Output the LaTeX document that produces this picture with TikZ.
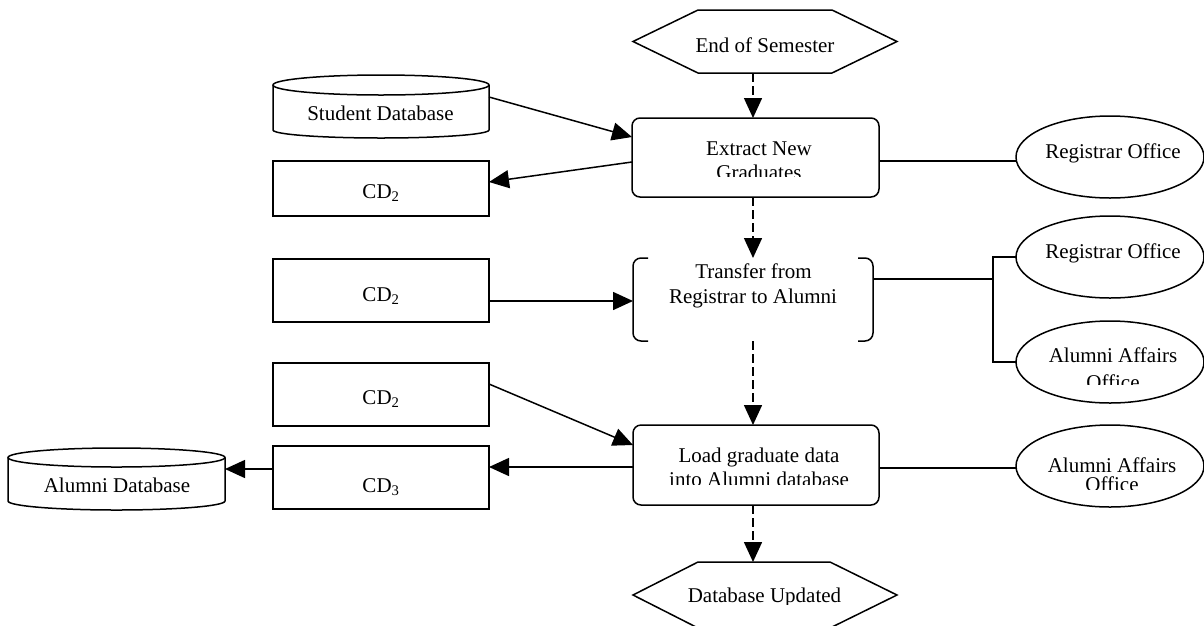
\documentclass[tikz,border=0pt]{standalone}
\usepackage{fontspec}
\setmainfont{Liberation Serif}
\usetikzlibrary{arrows.meta,calc,shapes.geometric}
\begin{document}
\begin{tikzpicture}[x=1pt,y=-1pt,
  line width=1.5pt,
  every node/.style={inner sep=0pt, outer sep=0pt},
  txt/.style={anchor=base, font=\fontsize{21}{24}\selectfont},
  frame/.style={rectangle, draw=none},
  databox/.style={rectangle, draw, minimum width=216pt},
  procbox/.style={rectangle, draw, rounded corners=8pt},
  actor/.style={ellipse, draw, minimum width=188pt, minimum height=82pt},
  arr/.style={-{Triangle[length=20pt,width=18pt]}},
  darr/.style={arr, dash pattern=on 9pt off 4pt},
  link/.style={line cap=butt}]

\clip (0,0) rectangle (1204,625);

% ---------- shapes ----------
% events (hexagons)
\node[frame, minimum width=264pt, minimum height=63pt] (start) at (765,41.5) {};
\draw ($(start.west)$) -- ($(start.north west)+(65,0)$) -- ($(start.north east)+(-65,0)$)
  -- (start.east) -- ($(start.south east)+(-65,0)$) -- ($(start.south west)+(65,0)$) -- cycle;
\node[frame, minimum width=264pt, minimum height=66pt] (finish) at (765,595) {};
\draw ($(finish.west)$) -- ($(finish.north west)+(65,0)$) -- ($(finish.north east)+(-67,0)$)
  -- (finish.east) -- ($(finish.south east)+(-67,0)$) -- ($(finish.south west)+(65,0)$) -- cycle;

% processes
\node[procbox, minimum width=247pt, minimum height=79pt] (extract) at (755.5,157.5) {};
\node[frame, minimum width=240pt, minimum height=83pt] (transfer) at (753,299.5) {};
\draw[rounded corners=8pt] ($(transfer.north west)+(15,0)$) -- (transfer.north west)
  -- (transfer.south west) -- ($(transfer.south west)+(15,0)$);
\draw[rounded corners=8pt] ($(transfer.north east)+(-15,0)$) -- (transfer.north east)
  -- (transfer.south east) -- ($(transfer.south east)+(-15,0)$);
\node[procbox, minimum width=246pt, minimum height=80pt] (load) at (756,465) {};

% data stores
\node[frame, minimum width=216pt, minimum height=63pt] (sdb) at (381,106.5) {};
\draw (381,85) ellipse [x radius=108pt, y radius=10pt];
\draw (273,85) -- (273,130) arc[start angle=180, end angle=360, x radius=108pt, y radius=8pt] -- (489,85);
\node[frame, minimum width=217pt, minimum height=62pt] (adb) at (116.5,479) {};
\draw (116.5,457.5) ellipse [x radius=108.5pt, y radius=9.5pt];
\draw (8,457.5) -- (8,501) arc[start angle=180, end angle=360, x radius=108.5pt, y radius=9pt] -- (225,457.5);

\node[databox, minimum height=55pt] (cd2a) at (381,188.5) {};
\node[databox, minimum height=63pt] (cd2b) at (381,290.5) {};
\node[databox, minimum height=63pt] (cd2c) at (381,394.5) {};
\node[databox, minimum height=63pt] (cd3)  at (381,477.5) {};

% actors
\node[actor] (reg1) at (1110,157) {};
\node[actor] (reg2) at (1110,257) {};
\node[actor] (alum1) at (1110,362) {};
\node[actor] (alum2) at (1110,466) {};

% ---------- labels ----------
\node[txt] (lstart) at (765,52) {End of Semester};
\node[txt] (lsdb) at (380.5,120) {Student Database};
\node[txt] (lcd2a) at (381,198) {CD\textsubscript{2}};
\node[txt] (lext1) at (759,155) {Extract New};
\begin{scope}
  \clip (633,119) rectangle (878,176);
  \node[txt] (lext2) at (759,179) {Graduates};
\end{scope}
\node[txt] (lreg1) at (1113,158) {Registrar Office};
\node[txt] (lreg2) at (1113,258) {Registrar Office};
\node[txt] (lalum1) at (1113,362) {Alumni Affairs};
\begin{scope}
  \clip (1020,330) rectangle (1200,384.5);
  \node[txt] (lalum1b) at (1113,389) {Office};
\end{scope}
\node[txt] (ltr1) at (753.5,278) {Transfer from};
\node[txt] (ltr2) at (753,303) {Registrar to Alumni};
\node[txt] (lcd2b) at (381,301) {CD\textsubscript{2}};
\node[txt] (lcd2c) at (381,404) {CD\textsubscript{2}};
\node[txt] (lload1) at (759,462) {Load graduate data};
\begin{scope}
  \clip (634,426) rectangle (878,484);
  \node[txt] (lload2) at (759,486) {into Alumni database};
\end{scope}
\node[txt] (lalum2) at (1112,472) {Alumni Affairs};
\begin{scope}
  \clip (1020,430) rectangle (1200,489);
  \node[txt] (lalum2b) at (1112,491) {Office};
\end{scope}
\node[txt] (lcd3) at (381,492) {CD\textsubscript{3}};
\node[txt] (ladb) at (117,492) {Alumni Database};
\begin{scope}
  \clip (640,563) rectangle (890,604);
  \node[txt] (lfinish) at (764.5,602) {Database Updated};
\end{scope}

% ---------- connectors ----------
\coordinate (axis) at (753,0);
\draw[darr] (start.south -| axis) -- (extract.north -| axis);
\draw[darr] (extract.south -| axis) -- (transfer.north -| axis);
\draw[darr] (transfer.south -| axis) -- (load.north -| axis);
\draw[darr] (load.south -| axis) -- (finish.north -| axis);

\draw[arr] ($(sdb.north east)+(0,22)$) -- ($(extract.north west)+(0,19)$);
\draw[arr] ($(extract.south west)+(0,-35)$) -- ($(cd2a.east)+(0,-6.5)$);
\draw[arr] ($(cd2b.east)+(0,10.5)$) -- ($(transfer.west)+(0,1.5)$);
\draw[arr] ($(cd2c.north east)+(0,21)$) -- ($(load.north west)+(0,20)$);
\draw[arr] ($(load.west)+(0,2)$) -- ($(cd3.east)+(0,-10.5)$);
\draw[arr] ($(cd3.west)+(0,-8.5)$) -- ($(adb.north east)+(0,21)$);

\draw[link] ($(extract.east)+(0,3.5)$) -- ($(reg1.west)+(0.4,4)$);
\coordinate (fork) at ($(transfer.north east)+(120,21)$);
\draw[link] ($(transfer.north east)+(0,21)$) -- (fork);
\draw[link] (reg2.west) -| (fork) |- (alum1.west);
\draw[link] ($(load.east)+(0,3)$) -- ($(alum2.west)+(0,2)$);
\end{tikzpicture}
\end{document}
